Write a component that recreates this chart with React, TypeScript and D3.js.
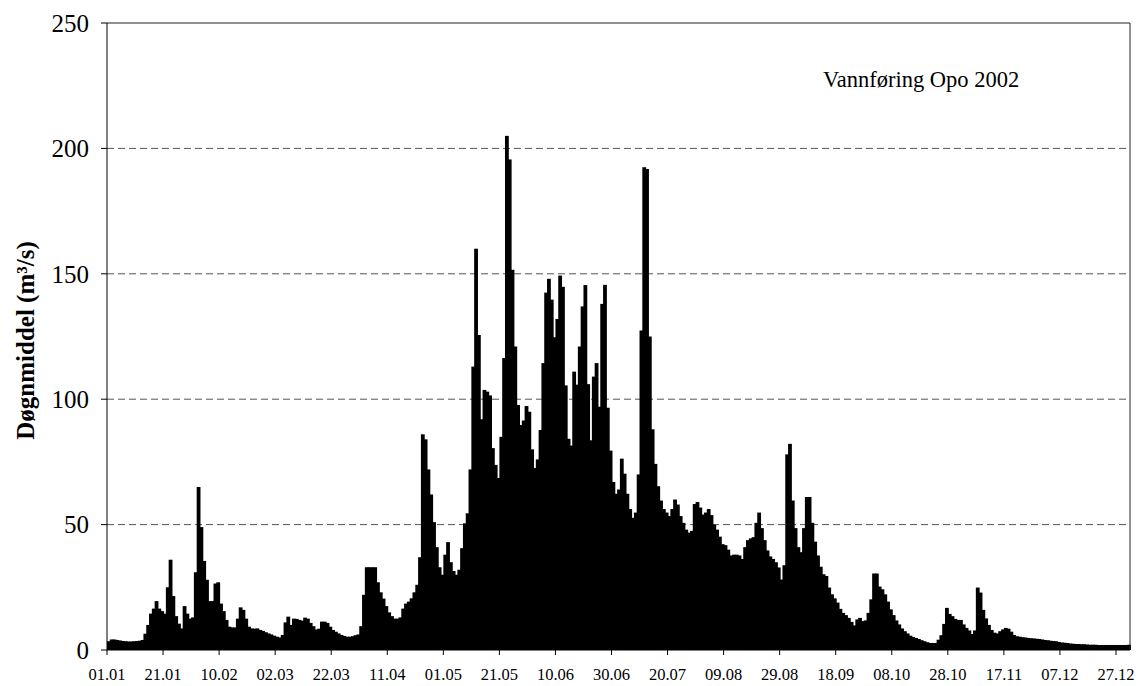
import React from 'react';
import { scaleBand, scaleLinear, range } from 'd3';

// daily mean discharge Opo 2002 (m3/s), one array per month
const jan = [3.5, 4.2, 4.2, 4.0, 3.8, 3.6, 3.5, 3.4, 3.4, 3.5, 3.6, 3.7, 4.0, 6.5, 10, 14.5, 16.5, 19.5, 16.5, 15.5, 14.5, 25, 36, 21.5, 13.5, 10.5, 8.6, 17.5, 14.5, 12.5, 13];
const feb = [31, 65, 49, 35.5, 28, 19.5, 19.5, 26.5, 27, 18.5, 15.5, 12, 9.3, 9, 9, 12.5, 17, 16, 12.5, 9.3, 8.6, 8.5, 8.6, 8.0, 7.6, 7.1, 6.6, 6.2];
const mar = [5.7, 5.3, 5.0, 6.0, 11, 13.3, 10, 12.5, 12.4, 12, 11.7, 12.9, 12.5, 10.8, 9.5, 8.2, 8.5, 11.3, 11.3, 10.8, 9.3, 8, 7.3, 6.6, 6.0, 5.6, 5.3, 5.3, 5.5, 5.9, 6.2];
const apr = [9.5, 22, 33, 33, 33, 33, 27, 23, 20.5, 17.5, 15, 13.5, 12.5, 12.5, 13, 16.5, 18.5, 19.3, 20.6, 23, 26, 37, 86, 84, 72, 62, 51, 41, 33, 30];
const may = [38, 43, 35, 31.5, 30, 32, 40.6, 50.5, 54.5, 72, 113, 160, 125.6, 92, 103.7, 103, 101.5, 80.5, 73.8, 68.6, 85, 116.4, 205, 195.6, 151.6, 121, 97.7, 89.7, 91.5, 97.3, 95];
const jun = [80, 72.6, 76, 87.7, 114.4, 142.5, 148, 139.7, 124.7, 132, 149.3, 144.8, 105.5, 84.2, 81.5, 111, 105.8, 121, 137, 145.5, 106, 83.6, 109, 114.4, 97, 138, 145.6, 96.6, 79.5, 67];
const jul = [62.3, 64, 76.3, 70.3, 62.3, 56.2, 52.7, 54.8, 70, 127.4, 192.5, 191.8, 125, 88, 74.2, 65.3, 59.6, 56.2, 54.8, 53.4, 56.2, 60, 58, 53.4, 50.7, 48, 46.8, 47.5, 58.2, 59, 56.8];
const aug = [54, 54.8, 56.2, 53.8, 50, 48, 45.2, 42.2, 41.8, 40, 37.7, 38, 38, 37.7, 36.3, 41, 43.8, 44.5, 45, 50.7, 54.8, 48.6, 43.8, 39.7, 37.3, 36.3, 35, 32.9, 28.1, 33.8, 78];
const sep = [82.2, 59.6, 48.6, 41, 39, 48.6, 61, 61, 50.7, 43.2, 37.7, 33.2, 30.2, 29.5, 24.9, 22.2, 20.6, 18.9, 16.4, 14.8, 13.9, 12.8, 11.2, 9.8, 12.2, 12.8, 11.5, 11.8, 14.8, 20.2];
const oct = [30.5, 30.5, 25.3, 24.2, 22.2, 19.3, 16.2, 13.9, 11.8, 10.2, 8.6, 7.5, 6.6, 5.7, 5.2, 4.8, 4.4, 3.9, 3.5, 3.1, 2.8, 2.8, 2.8, 4.1, 5.9, 10.4, 16.8, 14.4, 13.5, 12.4, 12];
const nov = [12, 10.2, 8.8, 7.8, 6.4, 7.8, 24.9, 22.9, 16, 12.6, 10, 8, 6.9, 6.6, 7.5, 8.2, 8.8, 8.5, 7.3, 6, 5.5, 5.3, 5.1, 5.0, 4.8, 4.7, 4.6, 4.5, 4.4, 4.2];
const dec = [4.0, 3.9, 3.7, 3.6, 3.5, 3.2, 3.0, 2.9, 2.8, 2.6, 2.5, 2.4, 2.4, 2.3, 2.3, 2.2, 2.1, 2.1, 2.1, 2.0, 2.0, 2.0, 2.0, 2.0, 2.0, 2.0, 2.0, 2.0, 2.0, 2.0, 2.1];

const xLabels = ['01.01', '21.01', '10.02', '02.03', '22.03', '11.04', '01.05', '21.05', '10.06', '30.06', '20.07', '09.08', '29.08', '18.09', '08.10', '28.10', '17.11', '07.12', '27.12'];
const yTicks = [0, 50, 100, 150, 200, 250];

const flow = [...jan, ...feb, ...mar, ...apr, ...may, ...jun, ...jul, ...aug, ...sep, ...oct, ...nov, ...dec];

const W = 1139, H = 686;
const margin = { top: 23, right: 9, bottom: 36, left: 107 };
const font = '"Liberation Serif", "Times New Roman", serif';

export default function App() {
  const innerW = W - margin.left - margin.right;
  const innerH = H - margin.top - margin.bottom;

  const x = scaleBand<number>().domain(range(flow.length)).range([0, innerW]).padding(0);
  const y = scaleLinear().domain([0, 250]).range([innerH, 0]);
  const bw = x.bandwidth();

  return (
    <svg width={W} height={H} style={{ position: 'absolute', left: 0, top: 0, background: '#fff' }} fontFamily={font}>
      <g transform={`translate(${margin.left},${margin.top})`}>
        {yTicks.filter(t => t > 0 && t < 250).map(t => (
          <line key={'g' + t} x1={0} x2={innerW} y1={y(t)} y2={y(t)} stroke="#555" strokeDasharray="7,4" />
        ))}
        {/* bars overlap by 1px so no hairline gaps show between days */}
        {flow.map((v, i) => (
          <rect key={i} x={x(i)} y={y(v)} width={bw + 1} height={innerH - y(v)} fill="#000" />
        ))}
        <line x1={0} x2={innerW} y1={0} y2={0} stroke="#222" />
        <line x1={innerW} x2={innerW} y1={0} y2={innerH} stroke="#222" />
        <line x1={0} x2={0} y1={0} y2={innerH} stroke="#000" />
        <line x1={0} x2={innerW} y1={innerH} y2={innerH} stroke="#000" />
        {yTicks.map(t => (
          <g key={'y' + t} transform={`translate(0,${y(t)})`}>
            <line x1={-6} x2={0} stroke="#000" />
            <text x={-18} dy="0.35em" textAnchor="end" fontSize={25}>{t}</text>
          </g>
        ))}
        {xLabels.map((lab, k) => {
          const xi = x(k * 20) as number;
          return (
            <g key={lab} transform={`translate(${xi},${innerH})`}>
              <line y1={0} y2={5} stroke="#000" />
              <text y={30} textAnchor="middle" fontSize={16.5}>{lab}</text>
            </g>
          );
        })}
        <text x={innerW - 307} y={64} fontSize={22.5}>Vannføring Opo 2002</text>
      </g>
      <text transform={`translate(34,${margin.top + innerH / 2 + 4}) rotate(-90)`} textAnchor="middle" fontSize={25} fontWeight="bold">
        Døgnmiddel (m³/s)
      </text>
    </svg>
  );
}
